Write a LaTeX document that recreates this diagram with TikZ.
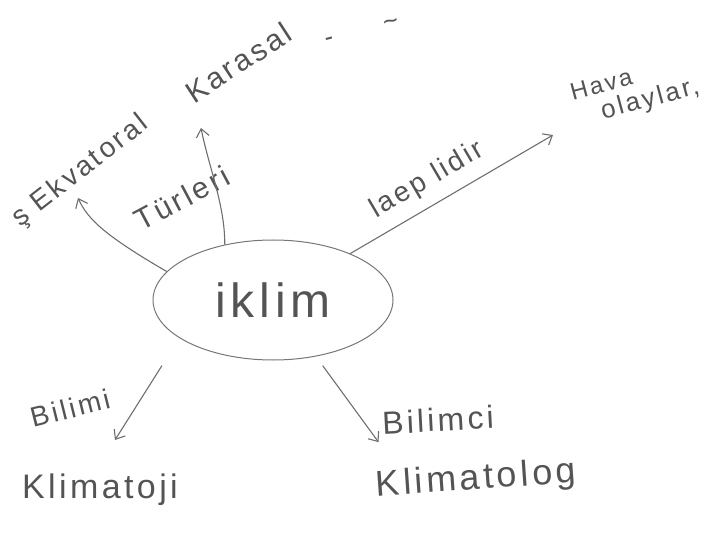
\documentclass[tikz,border=0pt]{standalone}
\usepackage{fontspec}
\setmainfont{Liberation Sans}
\newfontfamily\hand[LetterSpace=10]{Liberation Sans}
\usetikzlibrary{arrows.meta,shapes.geometric}
\definecolor{pencil}{gray}{0.33}
\tikzset{
  word/.style={text=pencil, inner sep=1pt},
  hsz/.style={font=\hand\fontsize{#1}{#1}\selectfont},
  line/.style={draw=pencil!85, line width=1.1pt, -{Straight Barb[length=8pt,width=13pt]}}
}
\begin{document}
\begin{tikzpicture}[x=1pt,y=-1pt]
\useasboundingbox (0,0) rectangle (723,537);

\node[ellipse, draw=pencil!80, line width=1pt, minimum width=240, minimum height=120, word, hsz=48] (iklim) at (273,300) {iklim};

% upper branches
\node[word, hsz=28, rotate=38, anchor=south west] (ekv) at (24,234) {ş Ekvatoral};
\node[word, hsz=30, rotate=33, anchor=south west] (kara) at (194,106) {Karasal};
\node[word, hsz=26, rotate=15] (karaek) at (362,32) {-\qquad\textasciitilde};
\node[word, hsz=30, rotate=28] (turl) at (182,198) {Türleri};
\node[word, hsz=24, rotate=15, anchor=south west] (hava) at (572,102) {Hava};
\node[word, hsz=26, rotate=15, anchor=south west] (olay) at (604,126) {olaylar,};

% lower branches
\node[word, hsz=34] (klj) at (100,490) {Klimatoji};
\node[word, hsz=36, rotate=4] (klg) at (476,480) {Klimatolog};
\node[word, hsz=28, rotate=14] (bil1) at (70,408) {Bilimi};
\node[word, hsz=32, rotate=3] (bil2) at (438,420) {Bilimci};

\draw[line] (iklim.165) .. controls +(-60,-35) and +(10,22) .. ([shift={(54,-36)}]ekv.south west);
\draw[line] (iklim.131) .. controls +(0,-40) and +(8,40) .. ([shift={(7,22)}]kara.south west);
\draw[line] (iklim.31) -- node[word, hsz=28, sloped, above=10pt, pos=0.44] (kac) {laep lidir} ([shift={(-19,33)}]hava.south west);
\draw[line] ([shift={(-32,20)}]iklim.210) -- ([shift={(15,-33)}]klj.north);
\draw[line] ([shift={(7,9)}]iklim.-53) -- ([shift={(5,-27)}]klg.north west);
\end{tikzpicture}
\end{document}
